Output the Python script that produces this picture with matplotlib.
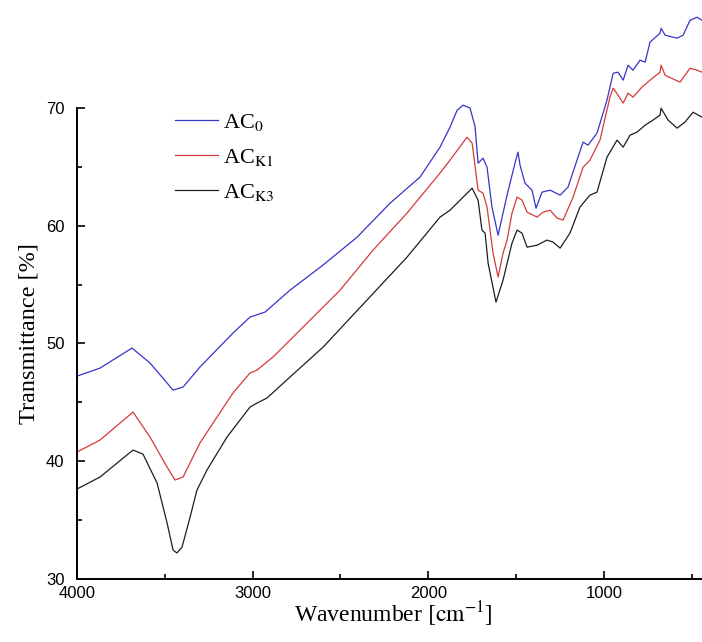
import matplotlib
matplotlib.use("Agg")
import matplotlib.pyplot as plt
from matplotlib.ticker import FixedLocator, MultipleLocator

plt.rcParams['mathtext.fontset'] = 'stix'

# wavenumber [cm-1] and transmittance [%]
wn_ac0 = [4000, 3869, 3687, 3584, 3487, 3453, 3396, 3300, 3112, 3015, 2929, 2787, 2599, 2405,
          2217, 2047, 1933, 1876, 1836, 1802, 1762, 1733, 1716, 1688, 1665, 1637, 1602, 1574,
          1551, 1506, 1489, 1477, 1449, 1409, 1386, 1352, 1306, 1249, 1204, 1147, 1118, 1090,
          1039, 982, 947, 919, 890, 862, 834, 794, 765, 737, 680, 674, 651, 583, 549, 509, 469, 441]
t_ac0 = [47.23, 47.91, 49.61, 48.34, 46.64, 46.04, 46.3, 48.0, 50.88, 52.24, 52.67, 54.53, 56.66,
         59.03, 61.92, 64.13, 66.67, 68.37, 69.8, 70.24, 70.0, 68.4, 65.31, 65.74, 64.97, 61.58,
         59.2, 61.07, 62.6, 65.31, 66.25, 65.14, 63.62, 63.02, 61.49, 62.85, 63.02, 62.6, 63.28,
         65.82, 67.1, 66.84, 67.86, 70.66, 72.95, 73.04, 72.36, 73.63, 73.21, 74.06, 73.89, 75.59,
         76.35, 76.77, 76.18, 75.93, 76.18, 77.45, 77.71, 77.45]

wn_k1 = [4000, 3869, 3681, 3584, 3487, 3442, 3396, 3300, 3203, 3112, 3015, 2975, 2884, 2690,
         2502, 2314, 2121, 1933, 1876, 1779, 1750, 1716, 1688, 1665, 1631, 1602, 1574, 1551,
         1523, 1494, 1466, 1437, 1380, 1346, 1306, 1266, 1232, 1175, 1118, 1079, 1022, 965, 947,
         919, 890, 862, 834, 783, 737, 680, 674, 651, 566, 509, 469, 441]
t_k1 = [40.78, 41.8, 44.18, 42.05, 39.5, 38.4, 38.66, 41.55, 43.75, 45.79, 47.49, 47.74, 48.85,
        51.73, 54.53, 57.93, 61.07, 64.47, 65.57, 67.52, 67.01, 63.02, 62.77, 61.58, 57.67, 55.64,
        57.67, 58.78, 61.07, 62.43, 62.17, 61.15, 60.73, 61.15, 61.32, 60.65, 60.48, 62.43, 64.97,
        65.57, 67.27, 70.92, 71.68, 71.09, 70.41, 71.26, 70.92, 71.77, 72.36, 73.04, 73.63, 72.78,
        72.19, 73.38, 73.21, 73.04]

wn_k3 = [4000, 3869, 3681, 3624, 3544, 3487, 3453, 3431, 3402, 3356, 3317, 3260, 3146, 3015,
         2975, 2918, 2787, 2599, 2349, 2121, 1933, 1876, 1750, 1716, 1694, 1676, 1659, 1614,
         1574, 1523, 1494, 1466, 1437, 1380, 1324, 1289, 1249, 1193, 1136, 1079, 1039, 982, 925,
         890, 851, 811, 765, 720, 680, 674, 634, 583, 538, 492, 441]
t_k3 = [37.64, 38.66, 40.95, 40.6, 38.15, 34.75, 32.46, 32.21, 32.7, 35.26, 37.55, 39.25, 42.05,
        44.6, 44.94, 45.37, 47.15, 49.69, 53.68, 57.33, 60.73, 61.32, 63.19, 62.17, 59.63, 59.37,
        56.82, 53.51, 55.38, 58.52, 59.63, 59.37, 58.18, 58.35, 58.78, 58.61, 58.1, 59.37, 61.58,
        62.6, 62.85, 65.82, 67.27, 66.67, 67.69, 67.95, 68.54, 68.97, 69.39, 69.98, 68.97, 68.29,
        68.8, 69.64, 69.22]

y_major = [30, 40, 50, 60, 70]
y_minor = [35, 45, 55, 65]

fig = plt.figure(figsize=(7.02, 6.42), dpi=100)
ax = fig.add_axes([77/702, 63/642, 625/702, 579/642])

ax.plot(wn_ac0, t_ac0, color='#3535c8', lw=0.9, label=r'AC$_0$')
ax.plot(wn_k1, t_k1, color='#d43a3a', lw=0.9, label=r'AC$_\mathrm{K1}$')
ax.plot(wn_k3, t_k3, color='#1e1e1e', lw=0.9, label=r'AC$_\mathrm{K3}$')

ax.set_xlim(4000, 441)
ax.set_ylim(30, 79.17)
ax.spines['top'].set_visible(False)
ax.spines['right'].set_visible(False)
ax.spines['left'].set_linewidth(1.4)
ax.spines['bottom'].set_linewidth(1.4)
ax.spines['left'].set_bounds(30, 70)

ax.xaxis.set_major_locator(MultipleLocator(1000))
ax.xaxis.set_minor_locator(MultipleLocator(500))
ax.yaxis.set_major_locator(FixedLocator(y_major))
ax.yaxis.set_minor_locator(FixedLocator(y_minor))
ax.tick_params(which='both', direction='in', width=1.2, labelsize=12)
ax.tick_params(which='major', length=6)
ax.tick_params(which='minor', length=3.5)
ax.tick_params(axis='x', pad=5)
ax.tick_params(axis='y', pad=9)
for lab in ax.get_xticklabels() + ax.get_yticklabels():
    lab.set_family('Liberation Sans')

ax.set_xlabel(r'Wavenumber $\left[\mathrm{cm}^{-1}\right]$', family='Liberation Serif', fontsize=17)
ax.set_ylabel('Transmittance [%]', family='Liberation Serif', fontsize=17.5)
ax.xaxis.set_label_coords((393 - 77) / 625, (579 - 600) / 579)
ax.yaxis.set_label_coords((40 - 77) / 625, (579 - 334) / 579)

leg = ax.legend(loc='upper left', bbox_to_anchor=(175/702, 1 - 112/642),
                bbox_transform=fig.transFigure, frameon=False, borderpad=0,
                borderaxespad=0, handlelength=1.95, handletextpad=0.2,
                labelspacing=0.62, prop={'family': 'Liberation Serif', 'size': 16})

fig.savefig('out.png', dpi=100)
